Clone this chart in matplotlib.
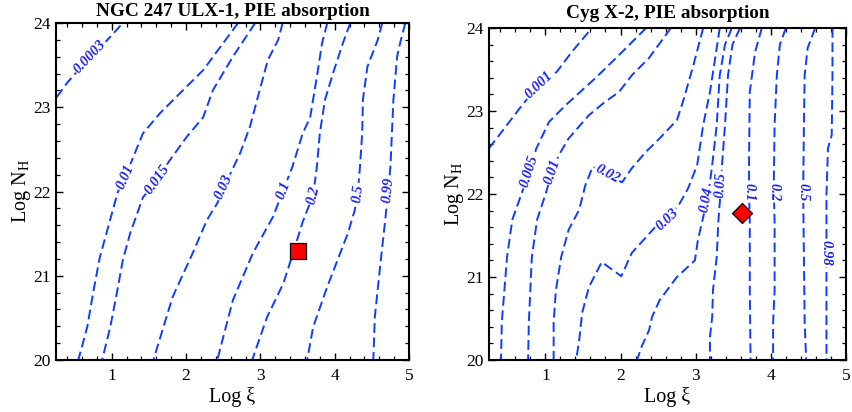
import numpy as np
import matplotlib
matplotlib.use('Agg')
import matplotlib.pyplot as plt
from matplotlib.ticker import MultipleLocator

plt.rcParams['font.family'] = ['Liberation Serif', 'DejaVu Serif']
plt.rcParams['mathtext.fontset'] = 'custom'
plt.rcParams['mathtext.rm'] = 'Liberation Serif'

# --- NGC 247 ULX-1 contours (Log xi, Log NH) ---
ngc_levels = ['0.0003', '0.01', '0.015', '0.03', '0.1', '0.2', '0.5', '0.99']
ngc_x = [
    [0.26, 0.40, 0.71, 0.88, 1.15],
    [2.70, 2.23, 1.65, 1.42, 1.29, 1.18, 1.08, 0.94, 0.84, 0.75, 0.67, 0.55],
    [2.93, 2.63, 2.36, 2.23, 2.01, 1.78, 1.61, 1.42, 1.25, 1.15, 1.07, 0.98, 0.87],
    [3.30, 3.24, 3.10, 2.99, 2.86, 2.73, 2.51, 2.42, 2.28, 2.09, 1.82, 1.56],
    [3.90, 3.83, 3.76, 3.67, 3.57, 3.43, 3.31, 3.17, 2.90, 2.63, 2.42],
    [4.21, 4.11, 3.98, 3.87, 3.80, 3.76, 3.71, 3.57, 3.44, 3.31, 3.09, 2.89],
    [4.64, 4.58, 4.44, 4.38, 4.37, 4.34, 4.31, 4.27, 4.18, 3.90, 3.71, 3.63],
    [4.95, 4.88, 4.84, 4.79, 4.77, 4.75, 4.72, 4.68, 4.61, 4.54, 4.52],
]
ngc_y = [
    [23.12, 23.29, 23.60, 23.74, 24.0],
    [24.0, 23.44, 22.93, 22.69, 22.41, 22.17, 21.99, 21.54, 21.22, 20.80, 20.39, 20.0],
    [24.0, 23.60, 23.20, 22.88, 22.65, 22.37, 22.14, 21.93, 21.51, 21.19, 20.80, 20.39, 20.0],
    [24.0, 23.80, 23.56, 23.20, 22.77, 22.46, 22.05, 21.86, 21.66, 21.27, 20.75, 20.0],
    [24.0, 23.76, 23.36, 22.88, 22.69, 22.29, 22.02, 21.70, 21.27, 20.71, 20.0],
    [24.0, 23.76, 23.41, 23.09, 22.69, 22.29, 21.96, 21.64, 21.27, 20.91, 20.51, 20.0],
    [24.0, 23.80, 23.48, 23.09, 22.69, 22.29, 21.98, 21.78, 21.51, 20.87, 20.39, 20.0],
    [24.0, 23.76, 23.60, 23.09, 22.69, 22.29, 22.02, 21.66, 21.10, 20.51, 20.0],
]
ngc_label_at = [2, 5, 6, 6, 6, 6, 6, 6]
ngc_point = (3.51, 21.29)

# --- Cyg X-2 contours ---
cyg_levels = ['0.001', '0.005', '0.01', '0.02', '0.03', '0.04', '0.05', '0.1', '0.2', '0.5', '0.98']
cyg_x = [
    [0.25, 0.42, 0.69, 0.91, 1.15, 1.35, 1.62],
    [2.34, 2.02, 1.67, 1.27, 1.05, 0.88, 0.78, 0.69, 0.56, 0.49, 0.42, 0.41],
    [2.67, 2.38, 2.15, 1.98, 1.78, 1.58, 1.31, 1.18, 1.09, 1.01, 0.89, 0.82, 0.78, 0.77],
    [3.10, 2.96, 2.83, 2.75, 2.52, 2.34, 2.15, 2.02, 1.82, 1.63, 1.53, 1.45, 1.31, 1.21, 1.14, 1.11, 1.11],
    [3.32, 3.26, 3.19, 3.10, 3.02, 2.90, 2.79, 2.62, 2.51, 2.34, 2.15, 2.01, 1.75, 1.58, 1.49, 1.45, 1.41],
    [3.48, 3.39, 3.32, 3.28, 3.23, 3.19, 3.15, 3.10, 3.03, 2.99, 2.75, 2.52, 2.42, 2.38, 2.28, 2.22],
    [3.59, 3.49, 3.43, 3.39, 3.35, 3.34, 3.32, 3.30, 3.28, 3.23, 3.22, 3.19, 3.19],
    [3.88, 3.79, 3.72, 3.71, 3.71, 3.72, 3.72, 3.73],
    [4.20, 4.12, 4.08, 4.05, 4.04, 4.04, 4.05, 4.05, 4.03, 4.03],
    [4.59, 4.49, 4.45, 4.44, 4.43, 4.44, 4.45, 4.47],
    [4.82, 4.82, 4.81, 4.76, 4.74, 4.74, 4.74, 4.74],
]
cyg_y = [
    [22.55, 22.75, 23.07, 23.31, 23.47, 23.71, 24.0],
    [24.0, 23.71, 23.40, 23.07, 22.87, 22.55, 22.27, 22.02, 21.69, 21.24, 20.45, 20.0],
    [24.0, 23.64, 23.43, 23.23, 23.10, 22.95, 22.67, 22.47, 22.27, 22.02, 21.69, 21.24, 20.45, 20.0],
    [24.0, 23.52, 23.11, 22.89, 22.67, 22.51, 22.31, 22.14, 22.24, 22.33, 22.10, 21.81, 21.57, 21.24, 20.84, 20.45, 20.0],
    [24.0, 23.64, 23.23, 22.83, 22.35, 22.07, 21.89, 21.69, 21.65, 21.48, 21.29, 21.01, 21.18, 20.88, 20.57, 20.24, 20.0],
    [24.0, 23.80, 23.43, 22.83, 22.43, 22.14, 21.93, 21.72, 21.45, 21.20, 21.0, 20.72, 20.52, 20.36, 20.16, 20.0],
    [24.0, 23.80, 23.43, 22.83, 22.35, 22.11, 21.89, 21.65, 21.24, 20.84, 20.52, 20.28, 20.0],
    [24.0, 23.71, 23.23, 22.43, 22.02, 21.65, 20.84, 20.0],
    [24.0, 23.80, 23.43, 22.83, 22.19, 22.02, 21.65, 20.84, 20.45, 20.0],
    [24.0, 23.76, 23.43, 22.83, 22.02, 21.24, 20.45, 20.0],
    [24.0, 23.43, 22.71, 22.55, 21.99, 21.29, 20.84, 20.0],
]
cyg_label_at = [3, 6, 8, 8, 7, 6, 5, 4, 5, 4, 5]
cyg_point = (3.61, 21.77)

LINE_COLOR = '#0f3cff'
LABEL_COLOR = '#1a22ee'


def draw_contours(ax, levels, xs, ys, label_at):
    for lev, x, y, k in zip(levels, xs, ys, label_at):
        ax.plot(x, y, color=LINE_COLOR, lw=1.4, dashes=(5, 2.4), zorder=2)
        # rotation from neighbouring points, in screen space
        p0 = ax.transData.transform((x[k - 1], y[k - 1]))
        p1 = ax.transData.transform((x[k + 1], y[k + 1]))
        if p1[0] < p0[0]:
            p0, p1 = p1, p0
        ang = np.degrees(np.arctan2(p1[1] - p0[1], p1[0] - p0[0]))
        ax.text(x[k], y[k], lev, rotation=ang, rotation_mode='anchor',
                ha='center', va='center', fontsize=10.5, fontweight='bold',
                fontstyle='italic', color=LABEL_COLOR, zorder=3,
                bbox=dict(fc='white', ec='none', pad=0.8))


def style_axes(ax, title, title_pad):
    ax.set_xlim(0.25, 5)
    ax.set_ylim(20, 24)
    ax.xaxis.set_major_locator(MultipleLocator(1))
    ax.xaxis.set_minor_locator(MultipleLocator(0.2))
    ax.yaxis.set_major_locator(MultipleLocator(1))
    ax.yaxis.set_minor_locator(MultipleLocator(0.2))
    ax.tick_params(which='both', direction='in', top=True, right=True, labelsize=12.5)
    ax.tick_params(which='major', length=5, width=1)
    ax.tick_params(which='minor', length=3, width=0.9)
    ax.tick_params(axis='x', pad=6)
    ax.tick_params(axis='y', pad=4)
    for s in ax.spines.values():
        s.set_linewidth(1.5)
    ax.set_xlabel('Log ξ', fontsize=14.5, labelpad=2)
    ax.set_ylabel(r'Log N$_{\rm H}$', fontsize=14.5, labelpad=0)
    ax.set_title(title, fontsize=13.9, fontweight='bold', pad=title_pad)


fig = plt.figure(figsize=(8.52, 4.12), dpi=100)
ax1 = fig.add_axes([56 / 852, 1 - 360 / 412, 353 / 852, 337 / 412])
ax2 = fig.add_axes([489 / 852, 1 - 360 / 412, 357 / 852, 332 / 412])

style_axes(ax1, 'NGC 247 ULX-1, PIE absorption', 5)
style_axes(ax2, 'Cyg X-2, PIE absorption', 7)

draw_contours(ax1, ngc_levels, ngc_x, ngc_y, ngc_label_at)
draw_contours(ax2, cyg_levels, cyg_x, cyg_y, cyg_label_at)

ax1.plot(*ngc_point, marker='s', ms=11.5, color='red', mec='black', mew=0.9, zorder=4)
ax2.plot(*cyg_point, marker='D', ms=10.5, color='red', mec='black', mew=0.9, zorder=4)

fig.savefig('out.png', dpi=100)
